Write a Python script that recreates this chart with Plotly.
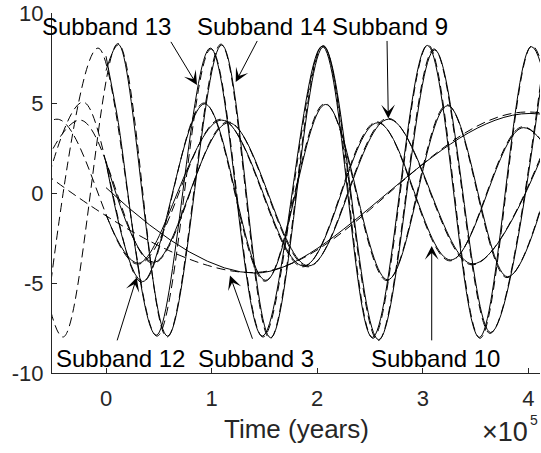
import plotly.graph_objects as go

# ---------------- data (time in years) ----------------
# Subband 13 (amplitude ~8)
t13_dash = [-58700, -7580, 48300, 99430, 148670, 205490, 252840, 304920, 354170, 403410, 452650]
y13_dash = [-8.0, 8.05, -7.95, 8.0, -8.0, 8.2, -8.07, 8.23, -8.07, 8.18, -8.0]
t13_solid = [0, 10000, 47600, 98800, 148000, 204700, 252200, 304300, 353500, 402800, 452000]
y13_solid = [7.6, 4.5, -7.9, 8.05, -7.95, 8.15, -8.02, 8.2, -8.02, 8.13, -8.0]

# Subband 14 (amplitude ~8)
t14_dash = [-90910, -40720, 11360, 57770, 108900, 155300, 205490, 257580, 310610, 363640, 415720]
y14_dash = [8.0, -8.0, 8.3, -8.0, 8.27, -8.09, 8.18, -8.2, 8.0, -7.8, 8.0]
t14_solid = [0, 11900, 58300, 109500, 155900, 206100, 258200, 311200, 364200, 416300]
y14_solid = [6.8, 8.25, -7.95, 8.22, -8.04, 8.13, -8.15, 7.95, -7.75, 7.95]

# Subband 12 (amplitude ~5)
t12_dash = [-79550, -21780, 34090, 92800, 150570, 207390, 266100, 322920, 379730, 436550]
y12_dash = [-5.0, 5.05, -4.97, 5.0, -4.9, 4.97, -4.87, 4.9, -4.7, 4.8]
t12_solid = [0, 34700, 93400, 151200, 208000, 266700, 323500, 380300, 437100]
y12_solid = [1.7, -4.92, 4.95, -4.85, 4.92, -4.82, 4.85, -4.65, 4.75]

# Subband 10 (amplitude ~4)
t10_dash = [-124050, -46400, 30300, 108900, 186550, 256630, 325760, 394890, 464020]
y10_dash = [-4.0, 4.1, -3.95, 4.1, -4.1, 3.95, -3.77, 3.68, -3.7]
t10_solid = [0, 30900, 109500, 187100, 257200, 326300, 395400, 464600]
y10_solid = [-1.2, -3.9, 4.05, -4.05, 3.9, -3.72, 3.63, -3.65]

# Subband 9 (amplitude ~4)
t9_dash = [-95640, -24620, 44510, 115530, 191290, 267050, 346590, 425190]
y9_dash = [-4.0, 4.05, -3.9, 3.95, -4.1, 4.15, -3.99, 4.0]
t9_solid = [0, 45100, 116100, 191900, 267600, 347200, 425800]
y9_solid = [1.75, -3.85, 3.9, -4.05, 4.1, -3.94, 3.95]

# Subband 3 (long period)
t3_dash = [-129700, 138600, 399000, 661900]
y3_dash = [4.45, -4.42, 4.5, -4.45]
t3_solid = [0, 141100, 401500, 661900]
y3_solid = [0.3, -4.45, 4.42, -4.45]

# axis ticks
x_tickvals = [0, 100000, 200000, 300000, 400000]
x_ticktext = ["0", "1", "2", "3", "4"]
y_tickvals = [-10, -5, 0, 5, 10]
y_ticktext = ["-10", "-5", "0", "5", "10"]
x_range = [-51140, 410980]
y_range = [-10, 10]

# labels with arrows: (text, text_x, text_y, tip_x, tip_y, tail_x, tail_y)
labels = [
    ("Subband 13", 0, 9.27, 86170, 6.0, 60610, 8.48),
    ("Subband 14", 147250, 9.27, 122820, 6.16, 143940, 8.53),
    ("Subband 9", 268940, 9.27, 267330, 4.14, 266100, 8.53),
    ("Subband 12", 13260, -9.19, 29070, -4.69, 10130, -8.27),
    ("Subband 3", 142050, -9.19, 117420, -4.59, 139200, -8.18),
    ("Subband 10", 312030, -9.19, 308430, -2.94, 308430, -8.27),
]

FONT = "Liberation Sans, Arial, Helvetica, sans-serif"
DASH = "9px,5px"

fig = go.Figure()
series = [
    (t13_dash, y13_dash, t13_solid, y13_solid),
    (t14_dash, y14_dash, t14_solid, y14_solid),
    (t12_dash, y12_dash, t12_solid, y12_solid),
    (t10_dash, y10_dash, t10_solid, y10_solid),
    (t9_dash, y9_dash, t9_solid, y9_solid),
    (t3_dash, y3_dash, t3_solid, y3_solid),
]
for td, yd, ts, ys in series:
    fig.add_trace(go.Scatter(x=td, y=yd, mode="lines",
                             line=dict(color="black", width=1, dash=DASH, shape="spline", smoothing=1, simplify=False),
                             showlegend=False, hoverinfo="skip"))
    fig.add_trace(go.Scatter(x=ts, y=ys, mode="lines",
                             line=dict(color="black", width=1, shape="spline", smoothing=1, simplify=False),
                             showlegend=False, hoverinfo="skip"))

annotations = []
for text, tx, ty, hx, hy, ax, ay in labels:
    annotations.append(dict(x=hx, y=hy, ax=ax, ay=ay, xref="x", yref="y", axref="x", ayref="y",
                            text="", showarrow=True, arrowhead=3, arrowsize=2.3, arrowwidth=1,
                            arrowcolor="black"))
    annotations.append(dict(x=tx, y=ty, xref="x", yref="y", text=text, showarrow=False,
                            xanchor="center", yanchor="middle",
                            font=dict(family=FONT, size=24, color="black")))

# axis title and exponent (plot area spans page px 52..540, 10..373)
annotations.append(dict(x=0.5, y=(373 - 429) / 363, xref="paper", yref="paper", text="Time (years)",
                        showarrow=False, xanchor="center", yanchor="middle",
                        font=dict(family=FONT, size=26, color="#262626")))
annotations.append(dict(x=(529.5 - 52) / 488, y=(373 - 432.3) / 363, xref="paper", yref="paper",
                        text="\u00d710", showarrow=False, xanchor="right", yanchor="middle",
                        font=dict(family=FONT, size=27, color="#262626")))
annotations.append(dict(x=(527.5 - 52) / 488, y=(373 - 420.1) / 363, xref="paper", yref="paper",
                        text="5", showarrow=False, xanchor="left", yanchor="middle",
                        font=dict(family=FONT, size=14, color="#262626")))

fig.update_layout(
    width=541, height=453,
    margin=dict(l=52, r=1, t=10, b=80),
    paper_bgcolor="white", plot_bgcolor="white",
    showlegend=False,
    hovermode=False,
    annotations=annotations,
    xaxis=dict(range=x_range, tickvals=x_tickvals, ticktext=x_ticktext,
               showgrid=False, zeroline=False, showline=True, linecolor="#262626", linewidth=1,
               ticks="inside", ticklen=5, tickcolor="#262626", tickwidth=1,
               tickfont=dict(family=FONT, size=22, color="#262626"), ticklabelstandoff=6,
               ticklabeloverflow="allow"),
    yaxis=dict(range=y_range, tickvals=y_tickvals, ticktext=y_ticktext,
               showgrid=False, zeroline=False, showline=True, linecolor="#262626", linewidth=1,
               ticks="inside", ticklen=5, tickcolor="#262626", tickwidth=1,
               tickfont=dict(family=FONT, size=22, color="#262626"), ticklabelstandoff=3,
               ticklabeloverflow="allow"),
)

fig.write_html("out.html", config={"displayModeBar": False},
               post_script="document.body.style.margin='0px';")
